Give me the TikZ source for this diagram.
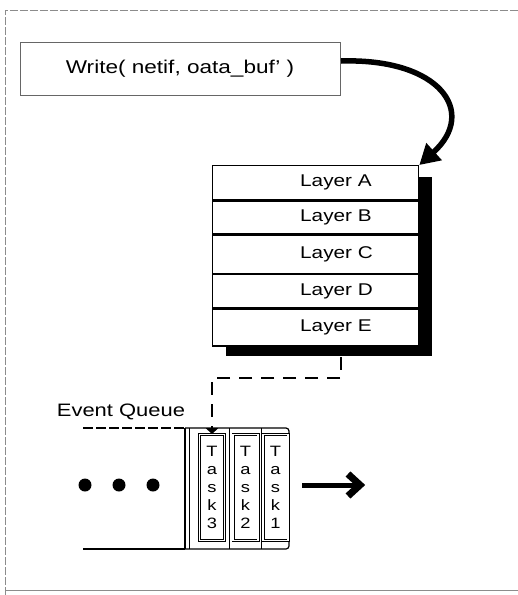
\documentclass[tikz,border=0pt]{standalone}
\usepackage{fontspec}
\setmainfont{Liberation Sans}[FakeStretch=1.22]
\usetikzlibrary{arrows.meta}
\begin{document}
\begin{tikzpicture}[x=1pt,y=-1pt,
  frameline/.style={draw=black!45,line width=0.6pt},
  callbox/.style={draw=black!60,line width=0.8pt,minimum width=320pt,minimum height=53pt,inner sep=0pt,
    font=\fontsize{18.5}{20}\selectfont},
  layerbox/.style={draw,fill=white,line width=1.3pt,minimum width=206pt,inner sep=0pt,anchor=north west},
  layertext/.style={anchor=west,inner sep=0pt,font=\fontsize{17}{19}\selectfont},
  qline/.style={line width=1.2pt},
  taskbox/.style={draw,double,double distance=1.6pt,line width=0.7pt,minimum width=25pt,minimum height=106pt,
    inner sep=0pt,align=center,font=\fontsize{15}{18}\selectfont},
  dot/.style={circle,fill,inner sep=0pt,minimum size=13pt},
  bigarrow/.style={line width=5.5pt,-{Triangle[length=20pt,width=22pt]}},
  outstroke/.style={line width=5pt,line join=miter},
  outhead/.style={line width=7pt,line join=miter},
  linkline/.style={line width=1.8pt,dash pattern=on 13pt off 9pt,-{Triangle[length=6pt,width=12pt]}}]
\useasboundingbox (0,0) rectangle (518,595);

% outer frame
\draw[frameline,dash pattern=on 8pt off 2pt] (5,595) -- (5,10) -- (518,10);
\draw[frameline] (5,590) -- (518,590);

% call box
\node[callbox] (write) at (180,68.5) {Write( netif, oata\_buf' )};
\coordinate (wout) at (341,61);

% layer stack with shadow
\fill (226,177) rectangle (432,356);
\node[layerbox,minimum height=34pt] (la) at (212,165) {};
\node[layerbox,minimum height=33pt] (lb) at (la.south west) {};
\node[layerbox,minimum height=38pt] (lc) at (lb.south west) {};
\node[layerbox,minimum height=33pt] (ld) at (lc.south west) {};
\node[layerbox,minimum height=37pt] (le) at (ld.south west) {};
\node[layertext] (ta) at ([xshift=88pt]la.west) {Layer A};
\node[layertext] (tb) at ([xshift=88pt]lb.west) {Layer B};
\node[layertext] (tc) at ([xshift=88pt]lc.west) {Layer C};
\node[layertext] (td) at ([xshift=88pt]ld.west) {Layer D};
\node[layertext] (te) at ([xshift=88pt]le.west) {Layer E};

% call into the stack
\draw[bigarrow] (wout) .. controls (440,58) and (478,112) .. (la.north east);

% event queue
\node[font=\fontsize{18}{20}\selectfont,inner sep=0pt] (eq) at (121,412) {Event Queue};
\draw[qline,dash pattern=on 10pt off 3pt] (83,428) -- (185,428);
\draw[qline] (83,549) -- (185,549);
\draw[qline,rounded corners=3pt] (185,428) -- (289,428) -- (289,549) -- (185,549);
\draw[qline] (185,428) -- (185,549);
\draw[line width=0.8pt] (189,428) -- (189,549);
\draw[line width=0.8pt] (229,428) -- (229,549);
\draw[line width=0.8pt] (261,428) -- (261,549);
\node[taskbox] (t3) at (212,487.5) {T\\a\\s\\k\\3};
\node[taskbox] (t2) at (245.5,487.5) {T\\a\\s\\k\\2};
\node[taskbox] (t1) at (275.5,487.5) {T\\a\\s\\k\\1};

% stack output enters the queue
\coordinate (sout) at (341,357);
\draw[linkline] (sout) -- (341,378) -| (t3.north);

% pending events and dispatch: a bold chevron-headed arrow
\node[dot] (d1) at (85,485) {};
\node[dot] (d2) at (119,485) {};
\node[dot] (d3) at (153,485) {};
\coordinate (oa) at (302,485);
\coordinate (ob) at (360,485);
\draw[outstroke] (oa) -- (ob);
\draw[outhead] ([shift={(-12,-11)}]ob) -- (ob) -- ([shift={(-12,11)}]ob);
\end{tikzpicture}
\end{document}
